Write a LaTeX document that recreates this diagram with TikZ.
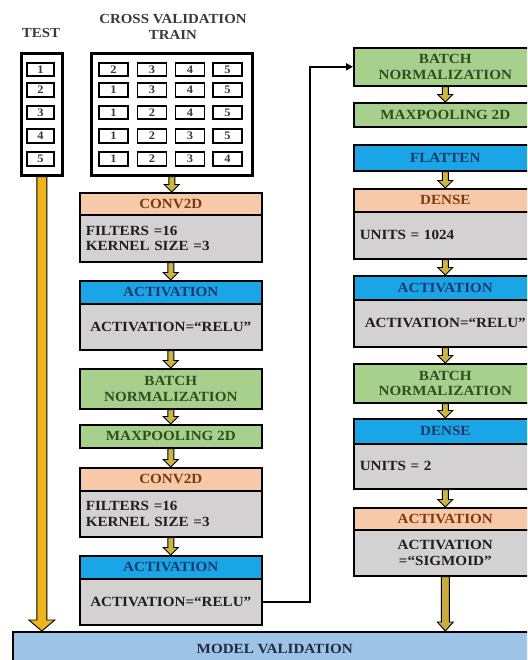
\documentclass[tikz,border=0pt]{standalone}
\usepackage{fontspec}
\setmainfont{Liberation Serif}[FakeStretch=1.08]
\usetikzlibrary{calc,arrows.meta}
\definecolor{peach}{HTML}{F7C9A8}
\definecolor{grayb}{HTML}{D3D1D1}
\definecolor{bluec}{HTML}{1AA5E6}
\definecolor{greenc}{HTML}{A8D08D}
\definecolor{mvc}{HTML}{9DC3E6}
\definecolor{goldc}{HTML}{EDB41E}
\definecolor{olivec}{HTML}{C9AC3E}
\definecolor{smallc}{HTML}{CDB543}
\definecolor{brownt}{HTML}{7A3A12}
\definecolor{bluet}{HTML}{1B3A6B}
\definecolor{greent}{HTML}{2F4F1F}
\definecolor{bodyt}{HTML}{1E1E1E}
\definecolor{labelt}{HTML}{3A3A3A}
\definecolor{mvt}{HTML}{1F2A44}
% fat arrow: from, to, colour, shaft half width, head half width, head length
\newcommand\fatarr[6]{%
  \filldraw[fill=#3, draw=black, line width=0.9pt, line join=miter]
    let \p1=(#1.south), \p2=(#2.north) in
    ({\x1-#4pt},\y1) -- ({\x1-#4pt},{\y2+#6pt}) -- ({\x1-#5pt},{\y2+#6pt})
    -- (\x1,\y2) -- ({\x1+#5pt},{\y2+#6pt}) -- ({\x1+#4pt},{\y2+#6pt})
    -- ({\x1+#4pt},\y1) -- cycle;}
\tikzset{
  blk/.style={draw=black, line width=1.6pt, inner sep=0pt, anchor=north west,
    align=center, font=\bfseries\fontsize{14}{15.5}\selectfont},
  lw/.style={minimum width=182pt},
  rw/.style={minimum width=183pt},
  hpeach/.style={blk, fill=peach, text=brownt},
  hblue/.style={blk, fill=bluec, text=bluet},
  hgreen/.style={blk, fill=greenc, text=greent},
  body/.style={blk, fill=grayb, text=bodyt},
  bodyl/.style={body, align=left, text width=#1, inner xsep=6pt},
  cell/.style={draw=black, line width=1.9pt, fill=white, minimum height=13.5pt,
    inner sep=0pt, font=\bfseries\fontsize{11.5}{11.5}\selectfont, text=labelt},
  tcell/.style={cell, minimum width=27pt},
  rcell/.style={cell, minimum width=29pt},
  outerbox/.style={draw=black, line width=2.6pt, fill=white, anchor=north west, inner sep=0pt},
  lbl/.style={font=\bfseries\fontsize{13.8}{16}\selectfont, text=labelt, align=center},
  conn/.style={draw=black, line width=1.8pt, -{Triangle[length=7pt,width=7pt]}},
}
\begin{document}
\begin{tikzpicture}[x=1pt,y=-1pt]
\clip (0,0) rectangle (527,660);
\fill[white] (0,0) rectangle (527,660);

% labels
\node[lbl] (testlbl) at (41,33) {TEST};
\node[lbl] (cvlbl) at (173,27) {CROSS VALIDATION\\TRAIN};

% outer boxes
\node[outerbox, minimum width=41pt, minimum height=122pt] (testbox) at (20,52) {};
\node[outerbox, minimum width=161pt, minimum height=122pt] (trainbox) at (90,52) {};

% cells
\foreach \r/\y in {1/69.5,2/90,3/112.5,4/136,5/159}
  \node[tcell] (t\r) at (40.5,\y) {\r};
\foreach \r/\y/\a/\b/\c/\d in {1/69.5/2/3/4/5, 2/90/1/3/4/5, 3/112.5/1/2/4/5, 4/136/1/2/3/5, 5/159/1/2/3/4}{
  \node[rcell] (r\r a) at (113.5,\y) {\a};
  \node[rcell] (r\r b) at (152,\y) {\b};
  \node[rcell] (r\r c) at (190,\y) {\c};
  \node[rcell] (r\r d) at (227.5,\y) {\d};
}

% left column
\node[hpeach, lw, minimum height=22pt] (c1h) at (79,192) {CONV2D};
\node[bodyl=170pt, lw, minimum height=47pt] (c1b) at (79,214) {FILTERS =16\\KERNEL SIZE =3};
\node[hblue, lw, minimum height=23pt] (a1h) at (79,280) {ACTIVATION};
\node[body, lw, minimum height=46pt] (a1b) at (79,303) {ACTIVATION=“RELU”};
\node[hgreen, lw, minimum height=40pt] (b1) at (79,368) {BATCH\\NORMALIZATION};
\node[hgreen, lw, minimum height=23pt] (m1) at (79,424) {MAXPOOLING 2D};
\node[hpeach, lw, minimum height=23pt] (c2h) at (79,467) {CONV2D};
\node[bodyl=170pt, lw, minimum height=46pt] (c2b) at (79,490) {FILTERS =16\\KERNEL SIZE =3};
\node[hblue, lw, minimum height=23pt] (a2h) at (79,555) {ACTIVATION};
\node[body, lw, minimum height=46pt] (a2b) at (79,578) {ACTIVATION=“RELU”};

% right column
\node[hgreen, rw, minimum height=38pt] (b2) at (353,47) {BATCH\\NORMALIZATION};
\node[hgreen, rw, minimum height=24pt] (m2) at (353,102) {MAXPOOLING 2D};
\node[hblue, rw, minimum height=26pt] (fl) at (353,144) {FLATTEN};
\node[hpeach, rw, minimum height=23pt] (d1h) at (353,188) {DENSE};
\node[bodyl=171pt, rw, minimum height=47pt] (d1b) at (353,211) {UNITS = 1024};
\node[hblue, rw, minimum height=24pt] (a3h) at (353,275) {ACTIVATION};
\node[body, rw, minimum height=47pt] (a3b) at (353,299) {ACTIVATION=“RELU”};
\node[hgreen, rw, minimum height=39pt] (b3) at (353,363) {BATCH\\NORMALIZATION};
\node[hblue, rw, minimum height=25pt] (d2h) at (353,418) {DENSE};
\node[bodyl=171pt, rw, minimum height=45pt] (d2b) at (353,443) {UNITS = 2};
\node[hpeach, rw, minimum height=22pt] (a4h) at (353,507) {ACTIVATION};
\node[body, rw, minimum height=46pt] (a4b) at (353,529) {ACTIVATION\\=“SIGMOID”};

% model validation
\node[blk, fill=mvc, text=mvt, minimum width=524pt, minimum height=34pt] (mv) at (12,631) {MODEL VALIDATION};

% small arrows
\fatarr{trainbox}{c1h}{smallc}{3}{7.5}{7.5}
\fatarr{c1b}{a1h}{smallc}{3}{7.5}{7.5}
\fatarr{a1b}{b1}{smallc}{3}{7.5}{7.5}
\fatarr{b1}{m1}{smallc}{3}{7.5}{7.5}
\fatarr{m1}{c2h}{smallc}{3}{7.5}{7.5}
\fatarr{c2b}{a2h}{smallc}{3}{7.5}{7.5}
\fatarr{b2}{m2}{smallc}{3}{7.5}{7.5}
\fatarr{fl}{d1h}{smallc}{3}{7.5}{7.5}
\fatarr{d1b}{a3h}{smallc}{3}{7.5}{7.5}
\fatarr{a3b}{b3}{smallc}{3}{7.5}{7.5}
\fatarr{b3}{d2h}{smallc}{3}{7.5}{7.5}
\fatarr{d2b}{a4h}{smallc}{3}{7.5}{7.5}
% long arrows
\fatarr{testbox}{mv}{goldc}{5}{13}{11}
\fatarr{a4b}{mv}{olivec}{4}{8}{9}

% connector between columns
\draw[conn] (a2b.east) -- ++(47,0) |- (b2.west);
\end{tikzpicture}
\end{document}
